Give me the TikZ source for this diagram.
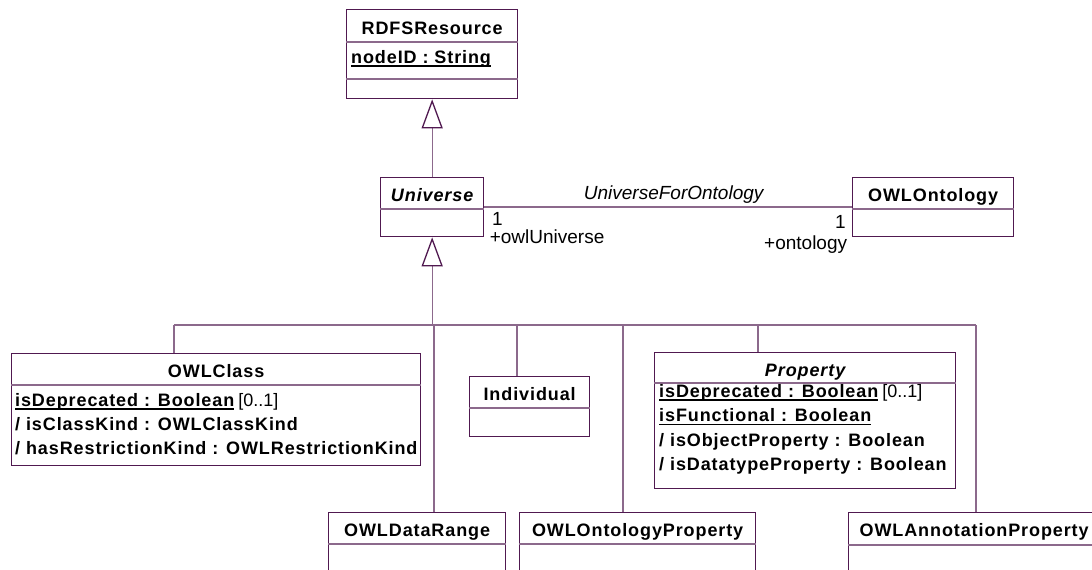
\documentclass[tikz,border=0pt]{standalone}
\usepackage{fontspec}
\setmainfont{Liberation Sans}
\newfontfamily\umlbold[LetterSpace=5]{Liberation Sans}
\usetikzlibrary{arrows.meta}
\definecolor{umlborder}{RGB}{80,25,80}
\definecolor{umlline}{RGB}{140,105,140}
\newcommand\attrline[1]{\setbox0\hbox{#1}\rlap{\rule[-3.5pt]{\wd0}{1.6pt}}\box0}
\tikzset{
	classbox/.style={draw=umlborder,line width=1.3pt,fill=white,inner sep=0pt,anchor=north west},
	divline/.style={umlline,line width=1.3pt},
	genline/.style={umlline,line width=1.3pt},
	gen/.style={-{Triangle[length=29pt,width=21pt,fill=white,color=umlborder,line width=1.3pt]}},
	ctitle/.style={anchor=base,inner sep=0pt,text=black,font=\fontsize{18}{22}\selectfont\umlbold\bfseries},
	attr/.style={anchor=base west,inner sep=0pt,text=black,font=\fontsize{18}{22}\selectfont\umlbold\bfseries},
	role/.style={inner sep=0pt,text=black,font=\fontsize{19}{23}\selectfont}
}
\begin{document}
\begin{tikzpicture}[x=1pt,y=-1pt]
	\useasboundingbox[fill=white] (0,0) rectangle (1092,570);
	\clip (0,0) rectangle (1092,570);
	\node[classbox,minimum width=171pt,minimum height=89pt] (rdfs) at (346,9) {};
	\node[classbox,minimum width=103pt,minimum height=59pt] (universe) at (380,177) {};
	\node[classbox,minimum width=161pt,minimum height=59pt] (ontology) at (852,177) {};
	\node[classbox,minimum width=409pt,minimum height=112pt] (owlclass) at (11,353) {};
	\node[classbox,minimum width=120pt,minimum height=60pt] (individual) at (469,376) {};
	\node[classbox,minimum width=301pt,minimum height=136pt] (property) at (654,352) {};
	\node[classbox,minimum width=177pt,minimum height=110pt] (datarange) at (328,512) {};
	\node[classbox,minimum width=236pt,minimum height=110pt] (ontprop) at (519,512) {};
	\node[classbox,minimum width=251pt,minimum height=110pt] (annprop) at (848,512) {};
	\foreach \n/\d in {rdfs/33,rdfs/70,universe/32,ontology/32,owlclass/32,individual/32,property/31,datarange/32,ontprop/32,annprop/33}
		\draw[divline] ([yshift=-\d pt]\n.north west) -- ([yshift=-\d pt]\n.north east);
	\foreach \n/\t/\o in {rdfs/RDFSResource/25,universe/{\itshape Universe}/24,ontology/OWLOntology/24,owlclass/OWLClass/24,individual/Individual/24,property/{\itshape Property}/24,datarange/OWLDataRange/24,ontprop/OWLOntologyProperty/24,annprop/OWLAnnotationProperty/24}
		\node[ctitle] (\n-title) at ([yshift=-\o pt]\n.north) {\t};
	\node[attr] (rdfs-id) at ([shift={(5,54)}]rdfs.north west) {\attrline{nodeID : String}};
	\node[attr] (owlclass-dep) at ([shift={(4,53.5)}]owlclass.north west) {\attrline{isDeprecated : Boolean}\hspace{4pt}{\normalfont[0..1]}};
	\node[attr] (owlclass-kind) at ([shift={(4,77.5)}]owlclass.north west) {/ isClassKind : OWLClassKind};
	\node[attr] (owlclass-restr) at ([shift={(4,101.5)}]owlclass.north west) {/ hasRestrictionKind : OWLRestrictionKind};
	\node[attr] (property-dep) at ([shift={(5,45.5)}]property.north west) {\attrline{isDeprecated : Boolean}\hspace{4pt}{\normalfont[0..1]}};
	\node[attr] (property-fun) at ([shift={(5,69.9)}]property.north west) {\attrline{isFunctional : Boolean}};
	\node[attr] (property-obj) at ([shift={(5,94.3)}]property.north west) {/ isObjectProperty : Boolean};
	\node[attr] (property-dt) at ([shift={(5,118.7)}]property.north west) {/ isDatatypeProperty : Boolean};
	\draw[genline,gen] (universe.north) -- (rdfs.south);
	\coordinate (busmid) at (universe.south |- 0,325);
	\draw[genline,gen] (busmid) -- (universe.south);
	\foreach \n/\x in {owlclass/174,datarange/434,individual/517,ontprop/623,property/758,annprop/976} {
		\coordinate (b-\n) at (\x,325);
		\draw[genline] (b-\n) -- (b-\n |- \n.north);
	}
	\draw[genline] (b-owlclass) -- (b-annprop);
	\draw[genline] ([yshift=-30pt]universe.north east) -- node[role,pos=0.515,anchor=base,yshift=7.5pt] (assoc-name) {\itshape UniverseForOntology} ([yshift=-30pt]ontology.north west);
	\node[role,anchor=base west] (univ-mult) at ([shift={(7.7,48)}]universe.north east) {1};
	\node[role,anchor=base west] (univ-role) at ([shift={(5.3,66.3)}]universe.north east) {+owlUniverse};
	\node[role,anchor=base east] (ont-mult) at ([shift={(-6,51)}]ontology.north west) {1};
	\node[role,anchor=base east] (ont-role) at ([shift={(-4.7,72.5)}]ontology.north west) {+ontology};
\end{tikzpicture}
\end{document}
